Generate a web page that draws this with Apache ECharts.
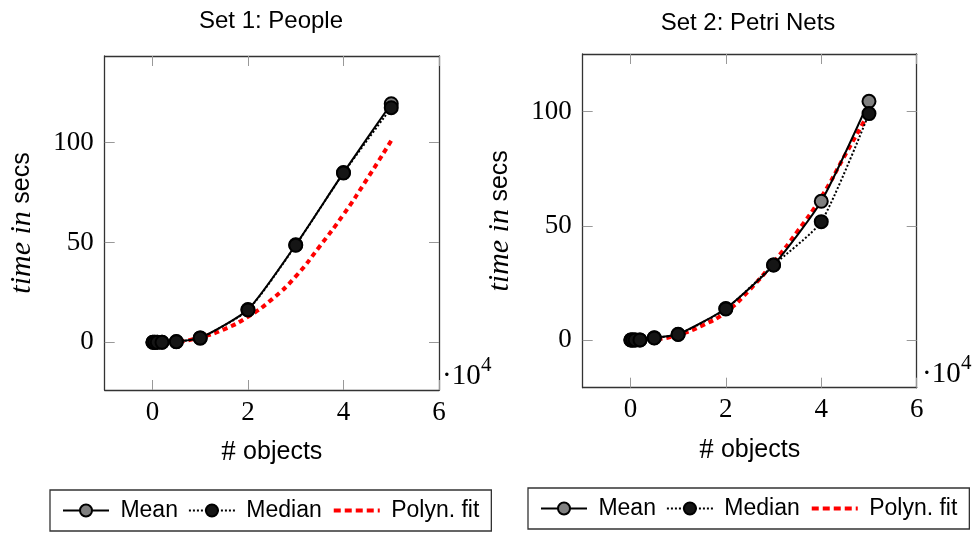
<!DOCTYPE html>
<html>
<head>
<meta charset="utf-8">
<script src="https://cdn.jsdelivr.net/npm/echarts@6/dist/echarts.min.js"></script>
<style>
  html, body { margin: 0; padding: 0; background: #fff; }
  #chart { width: 974px; height: 534px; }
</style>
</head>
<body>
<div id="chart"></div>
<script>
// data (x in objects, y in seconds)
const objects = [100, 500, 1000, 2000, 5000, 10000, 20000, 30000, 40000, 50000];
const peopleMean = [0, 0, 0, 0, 0.35, 2.2, 16.4, 48.8, 85, 119.5];
const peopleMedian = [0, 0, 0, 0, 0.3, 2.1, 16.2, 48.6, 84.8, 117.5];
const petriMean = [0, 0, 0, 0, 1.0, 2.5, 13.8, 32.8, 60.7, 104.5];
const petriMedian = [0, 0, 0, 0, 0.9, 2.4, 13.6, 32.8, 51.8, 99.1];

const fitX = [0, 5000, 10000, 15000, 20000, 25000, 30000, 35000, 40000, 45000, 50000];
const peopleFit = [0, 0.3, 2.5, 6.5, 12.8, 21.5, 33, 48, 64, 82, 101];
const petriFit = [0, 0.3, 2.3, 6.3, 12.2, 22, 34, 47.5, 62.5, 81, 99.5];

const titles = ["Set 1: People", "Set 2: Petri Nets"];
const legendNames = ["Mean", "Median", "Polyn. fit"];
const xTicks = [0, 20000, 40000, 60000];
const yTicks = [0, 50, 100];

const serif = "Liberation Serif";
const sans = "Liberation Sans";

const chart = echarts.init(document.getElementById("chart"));

const grids = [
  { left: 104.7, top: 56, width: 334.3, height: 334, yMin: -23.9, yMax: 143.4 },
  { left: 582.7, top: 54, width: 334, height: 333.7, yMin: -20.9, yMax: 125.2 },
];

function zip(xs, ys) {
  return xs.map((x, i) => [x, ys[i]]);
}

const xAxes = [];
const yAxes = [];
grids.forEach((g, i) => {
  const tickStyle = { show: true, inside: true, length: 10, lineStyle: { color: "#999", width: 1 } };
  const lineStyle = { show: true, onZero: false, lineStyle: { color: "#333", width: 1.3 } };
  xAxes.push({
    type: "value", gridIndex: i, min: -10000, max: 60000, position: "bottom",
    axisLine: lineStyle,
    axisTick: { ...tickStyle, customValues: xTicks },
    axisLabel: {
      customValues: xTicks, margin: 9, fontFamily: serif, fontSize: 27, color: "#000",
      formatter: (v) => String(v / 10000),
    },
    splitLine: { show: false },
    name: "{m|# }{s|objects}", nameLocation: "middle", nameGap: 48,
    nameTextStyle: {
      rich: {
        m: { fontFamily: serif, fontSize: 29, color: "#000" },
        s: { fontFamily: sans, fontSize: 25, color: "#000" },
      },
    },
  });
  xAxes.push({
    type: "value", gridIndex: i, min: -10000, max: 60000, position: "top",
    axisLine: lineStyle,
    axisTick: { ...tickStyle, customValues: xTicks },
    axisLabel: { show: false },
    splitLine: { show: false },
  });
  yAxes.push({
    type: "value", gridIndex: i, min: g.yMin, max: g.yMax, position: "left",
    axisLine: lineStyle,
    axisTick: { ...tickStyle, customValues: yTicks },
    axisLabel: { customValues: yTicks, margin: 11, fontFamily: serif, fontSize: 27, color: "#000" },
    splitLine: { show: false },
    name: "{i|time in }{s|secs}", nameLocation: "middle", nameGap: 68,
    nameTextStyle: {
      rich: {
        i: { fontFamily: serif, fontStyle: "italic", fontSize: 30, color: "#000" },
        s: { fontFamily: sans, fontSize: 25, color: "#000" },
      },
    },
  });
  yAxes.push({
    type: "value", gridIndex: i, min: g.yMin, max: g.yMax, position: "right",
    axisLine: lineStyle,
    axisTick: { ...tickStyle, customValues: yTicks },
    axisLabel: { show: false },
    splitLine: { show: false },
  });
});

function panelSeries(i, mean, median, fit) {
  return [
    {
      name: "Polyn. fit", type: "line", xAxisIndex: i * 2, yAxisIndex: i * 2,
      data: zip(fitX, fit), smooth: true, symbol: "none", z: 1,
      lineStyle: { color: "#ff0000", width: 4, type: [5, 4] },
      itemStyle: { color: "#ff0000" },
    },
    {
      name: "Mean", type: "line", xAxisIndex: i * 2, yAxisIndex: i * 2,
      data: zip(objects, mean), smooth: 0.2, symbol: "circle", symbolSize: 13, z: 3,
      lineStyle: { color: "#000", width: 2 },
      itemStyle: { color: "#808080", borderColor: "#000", borderWidth: 2 },
    },
    {
      name: "Median", type: "line", xAxisIndex: i * 2, yAxisIndex: i * 2,
      data: zip(objects, median), smooth: 0.2, symbol: "circle", symbolSize: 13, z: 4,
      lineStyle: { color: "#000", width: 2, type: "dotted" },
      itemStyle: { color: "#151515", borderColor: "#000", borderWidth: 2 },
    },
  ];
}

const legendBase = {
  data: [
    legendNames[0],
    legendNames[1],
    { name: legendNames[2], itemStyle: { color: "transparent", borderWidth: 0, opacity: 0 },
      lineStyle: { color: "#ff0000", width: 4, type: [7, 4] } },
  ],
  orient: "horizontal",
  itemWidth: 46, itemHeight: 15, itemGap: 10,
  borderColor: "#333", borderWidth: 1.3,
  padding: [9, 12],
  formatter: (name) => " " + name,
  textStyle: { fontFamily: sans, fontSize: 23, color: "#000" },
  selectedMode: false,
};

const option = {
  animation: false,
  backgroundColor: "#fff",
  title: [
    { text: titles[0], left: 266, top: 4, textAlign: "center",
      textStyle: { fontFamily: sans, fontSize: 24, fontWeight: "normal", color: "#000" } },
    { text: titles[1], left: 743, top: 6, textAlign: "center",
      textStyle: { fontFamily: sans, fontSize: 24, fontWeight: "normal", color: "#000" } },
  ],
  legend: [
    { ...legendBase, left: 50, top: 490 },
    { ...legendBase, left: 528, top: 488 },
  ],
  grid: grids.map((g) => ({ left: g.left, top: g.top, width: g.width, height: g.height })),
  xAxis: xAxes,
  yAxis: yAxes,
  series: [
    ...panelSeries(0, peopleMean, peopleMedian, peopleFit),
    ...panelSeries(1, petriMean, petriMedian, petriFit),
  ],
  graphic: [
    { type: "text", left: 442, top: 362, style: { text: "·10", fontFamily: serif, fontSize: 29, fill: "#000" } },
    { type: "text", left: 481, top: 355, style: { text: "4", fontFamily: serif, fontSize: 21, fill: "#000" } },
    { type: "text", left: 922, top: 360, style: { text: "·10", fontFamily: serif, fontSize: 29, fill: "#000" } },
    { type: "text", left: 961, top: 353, style: { text: "4", fontFamily: serif, fontSize: 21, fill: "#000" } },
  ],
};

chart.setOption(option);
</script>
</body>
</html>
